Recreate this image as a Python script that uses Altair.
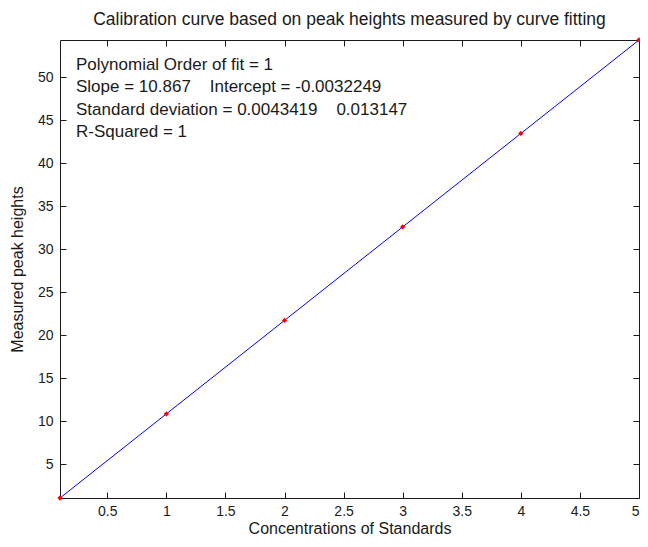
import altair as alt
import pandas as pd

conc = [0.1, 1, 2, 3, 4, 5]
heights = [1.0838, 10.864, 21.731, 32.598, 43.465, 54.332]
fit_x = [0.1, 5]
fit_y = [1.0838, 54.332]
notes = [
    "Polynomial Order of fit = 1",
    "Slope = 10.867\u00a0\u00a0\u00a0\u00a0Intercept = -0.0032249",
    "Standard deviation = 0.0043419\u00a0\u00a0\u00a0\u00a00.013147",
    "R-Squared = 1",
]
note_rows = [0, 1, 2, 3]

pts = pd.DataFrame({"x": conc, "y": heights})
fit = pd.DataFrame({"x": fit_x, "y": fit_y})
txt = pd.DataFrame({"t": notes, "i": note_rows})

FONT = "Liberation Sans"
INK = "#1a1a1a"
xs = alt.Scale(domain=[0.1, 5], nice=False, zero=False)
ys = alt.Scale(domain=[1.0838, 54.332], nice=False, zero=False)

tick_axis = dict(domain=False, grid=False, tickColor=INK, tickSize=6, offset=-6,
                 labelFont=FONT, labelFontSize=14, labelColor=INK)
title_axis = dict(titleFont=FONT, titleFontSize=16, titleFontWeight="normal", titleColor=INK)

xvals = [0.5, 1, 1.5, 2, 2.5, 3, 3.5, 4, 4.5, 5]
yvals = [5, 10, 15, 20, 25, 30, 35, 40, 45, 50]

line = alt.Chart(fit).mark_line(color="#0000ff", strokeWidth=1).encode(
    x=alt.X("x:Q", scale=xs, axis=alt.Axis(orient="bottom", values=xvals, format="~g",
            title="Concentrations of Standards", labelPadding=6, titlePadding=2,
            **tick_axis, **title_axis)),
    y=alt.Y("y:Q", scale=ys, axis=alt.Axis(orient="left", values=yvals, format="~g",
            title="Measured peak heights", labelPadding=7, titlePadding=12,
            **tick_axis, **title_axis)),
)

points = alt.Chart(pts).mark_point(shape="diamond", filled=True, color="#ff0000", size=28, opacity=1).encode(
    x=alt.X("x:Q", scale=xs, axis=alt.Axis(orient="top", values=xvals, labels=False, title=None, **tick_axis)),
    y=alt.Y("y:Q", scale=ys, axis=alt.Axis(orient="right", values=yvals, labels=False, title=None, **tick_axis)),
)

text = alt.Chart(txt).mark_text(align="left", baseline="middle", font=FONT, fontSize=17, color=INK).encode(
    x=alt.value(16),
    y=alt.Y("i:Q", scale=alt.Scale(domain=[0, 3], range=[25, 92]), axis=None),
    text="t:N",
)

chart = alt.layer(line, points, text).resolve_axis(x="independent", y="independent").resolve_scale(y="independent").properties(
    width=579, height=458,
    autosize=alt.AutoSizeParams(type="none"),
    padding={"left": 52, "top": 32, "right": 1, "bottom": 40},
    title=alt.TitleParams("Calibration curve based on peak heights measured by curve fitting",
                          font=FONT, fontSize=17.5, fontWeight="normal", color=INK, offset=9, anchor="middle"),
).configure(background="white").configure_view(stroke=INK, strokeWidth=1)

chart.save("out.html", embed_options={"renderer": "svg", "actions": False})
